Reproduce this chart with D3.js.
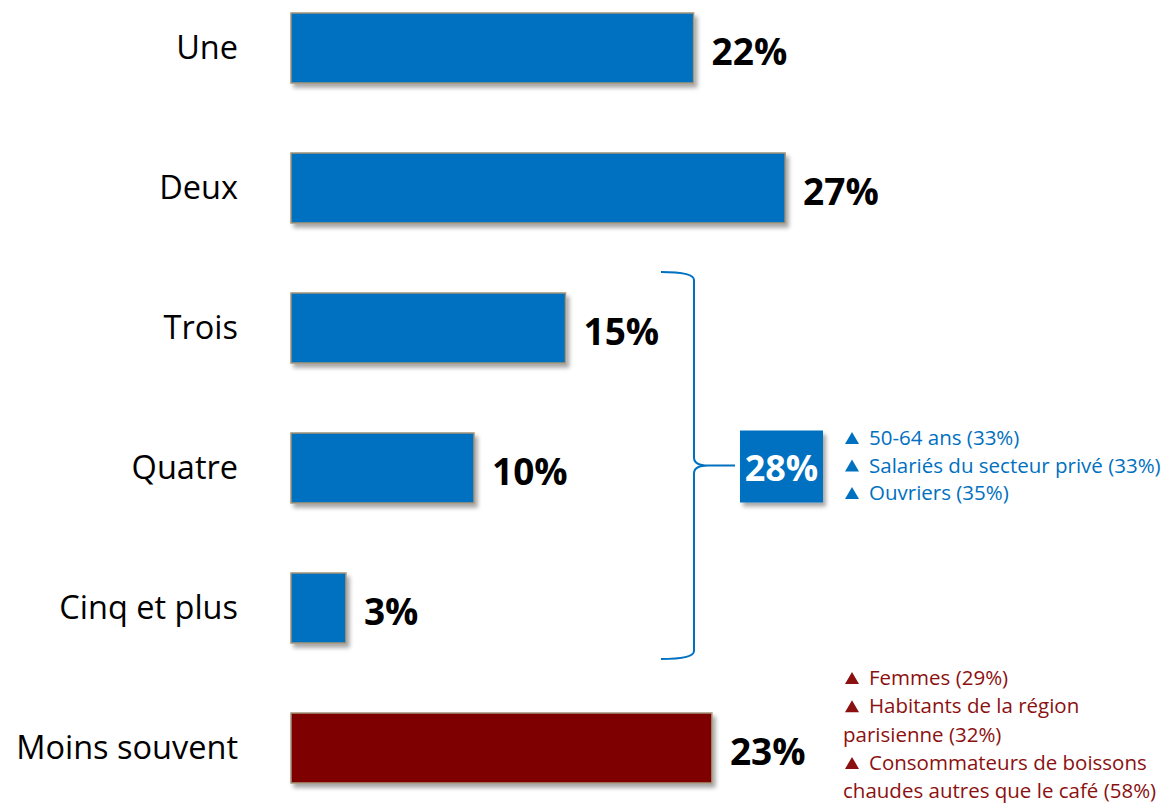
<!DOCTYPE html>
<html><head><meta charset="utf-8">
<script src="https://cdn.jsdelivr.net/npm/d3@7"></script>
<style>html,body{margin:0;padding:0;background:#fff;}svg{display:block;}</style>
</head><body>
<svg id="chart" width="1169" height="803"></svg>
<script>
const categories = ["Une", "Deux", "Trois", "Quatre", "Cinq et plus", "Moins souvent"];
const values = [22, 27, 15, 10, 3, 23];
const groups = ["main", "main", "main", "main", "main", "less"];
const bracketCats = ["Trois", "Quatre", "Cinq et plus"];
const bracketTotal = "28%";
const blueNotes = ["50-64 ans  (33%)", "Salariés du secteur privé (33%)", "Ouvriers (35%)"];
const redNotes = [["Femmes (29%)"], ["Habitants de la région", "parisienne (32%)"], ["Consommateurs de boissons", "chaudes autres que le café (58%)"]];

const colors = {main: "#0070C0", less: "#7F0000"};
const font = "'Open Sans', 'Liberation Sans', sans-serif";

const svg = d3.select("#chart");
const defs = svg.append("defs");
const f = defs.append("filter").attr("id", "sh").attr("x", "-10%").attr("y", "-20%").attr("width", "130%").attr("height", "160%");
f.append("feDropShadow").attr("dx", 3).attr("dy", 4).attr("stdDeviation", 2).attr("flood-color", "#000").attr("flood-opacity", 0.35);

const y = d3.scaleBand().domain(categories).range([-22, 818]).paddingInner(0.5).paddingOuter(0.25);
const x = d3.scaleLinear().domain([0, 30]).range([291, 840]);

// bars
svg.append("g").selectAll("rect").data(categories).join("rect")
  .attr("x", x(0))
  .attr("y", d => y(d))
  .attr("width", (d, i) => x(values[i]) - x(0))
  .attr("height", y.bandwidth())
  .attr("fill", (d, i) => colors[groups[i]])
  .attr("stroke", "#A39478")
  .attr("stroke-width", 1.5)
  .attr("filter", "url(#sh)");

// category labels
svg.append("g").selectAll("text").data(categories).join("text")
  .attr("x", 238)
  .attr("y", d => y(d) + y.bandwidth() / 2 + 11)
  .attr("text-anchor", "end")
  .attr("font-family", font)
  .attr("font-size", 32.5)
  .attr("fill", "#000")
  .text(d => d);

// value labels
svg.append("g").selectAll("text").data(categories).join("text")
  .attr("x", (d, i) => x(values[i]) + 18)
  .attr("y", d => y(d) + y.bandwidth() / 2 + 17)
  .attr("font-family", font)
  .attr("font-weight", "bold")
  .attr("font-size", 37)
  .attr("fill", "#000")
  .text((d, i) => values[i] + "%");

// bracket
const bTop = y(bracketCats[0]) - 21;
const bBot = y(bracketCats[bracketCats.length - 1]) + y.bandwidth() + 16;
const bx = 694, bl = 661, bMid = (bTop + bBot) / 2, tip = 735;
const p = d3.path();
p.moveTo(bl, bTop);
p.quadraticCurveTo(bx, bTop, bx, bTop + 8);
p.lineTo(bx, bMid - 8);
p.quadraticCurveTo(bx, bMid, bx + 14, bMid);
p.lineTo(tip, bMid);
p.moveTo(bx + 14, bMid);
p.quadraticCurveTo(bx, bMid, bx, bMid + 8);
p.lineTo(bx, bBot - 8);
p.quadraticCurveTo(bx, bBot, bl, bBot);
svg.append("path").attr("d", p.toString()).attr("fill", "none").attr("stroke", "#0070C0").attr("stroke-width", 2);

// total box
svg.append("rect").attr("x", 740).attr("y", bMid - 35).attr("width", 83).attr("height", 72)
  .attr("fill", "#0070C0").attr("filter", "url(#sh)");
svg.append("text").attr("x", 781.5).attr("y", bMid + 15).attr("text-anchor", "middle")
  .attr("font-family", font).attr("font-weight", "bold").attr("font-size", 36).attr("fill", "#fff").text(bracketTotal);

const tri = (g, x0, base, col) => {
  g.append("path").attr("d", `M${x0},${base - 1}L${x0 + 14},${base - 1}L${x0 + 7},${base - 13}Z`).attr("fill", col);
};

// blue notes
const bn = svg.append("g");
blueNotes.forEach((t, i) => {
  const yy = 445 + i * 27.5;
  tri(bn, 845, yy, "#0070C0");
  bn.append("text").attr("x", 869).attr("y", yy).attr("font-family", font).attr("font-size", 20.5).attr("fill", "#0070C0").text(t);
});

// red notes
const rn = svg.append("g");
const red = "#8B1010";
let line = 0;
redNotes.forEach(lines => {
  lines.forEach((t, j) => {
    const yy = 685 + line * 28.3;
    if (j === 0) {
      tri(rn, 845, yy, red);
      rn.append("text").attr("x", 869).attr("y", yy).attr("font-family", font).attr("font-size", 20.5).attr("fill", red).text(t);
    } else {
      rn.append("text").attr("x", 843).attr("y", yy).attr("font-family", font).attr("font-size", 20.5).attr("fill", red).text(t);
    }
    line++;
  });
});
</script>
</body></html>
